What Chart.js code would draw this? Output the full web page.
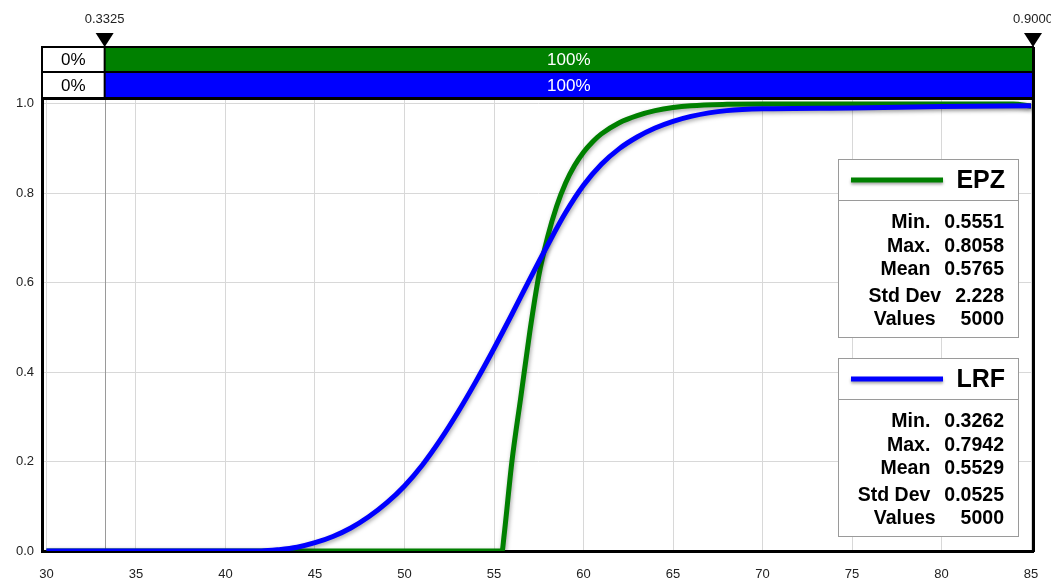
<!DOCTYPE html>
<html>
<head>
<meta charset="utf-8">
<script src="https://cdn.jsdelivr.net/npm/chart.js@4.4.1/dist/chart.umd.min.js"></script>
<style>
  html, body { margin: 0; padding: 0; background: #fff; }
  #wrap { width: 1051px; height: 581px; position: relative; }
</style>
</head>
<body>
<div id="wrap"><canvas id="cdfChart" width="1051" height="581"></canvas></div>
<script>
// ---- data ----
const xTicks = [30, 35, 40, 45, 50, 55, 60, 65, 70, 75, 80, 85];
const yTicks = [0, 0.2, 0.4, 0.6, 0.8, 1.0];

const seriesNames = ['EPZ', 'LRF'];
const seriesColors = ['#008000', '#0000ff'];

const epzX = [30, 55.45, 55.55, 56, 56.5, 57, 57.5, 58, 58.5, 59, 59.5, 60, 60.5, 61, 62, 63, 64, 65, 66, 68, 70, 80, 84, 85];
const epzY = [0, 0, 0.03, 0.2, 0.345, 0.49, 0.615, 0.703, 0.771, 0.823, 0.862, 0.892, 0.915, 0.933, 0.958, 0.974, 0.985, 0.992, 0.996, 0.999, 1.0, 1.0, 1.0, 0.995];

const lrfX = [30, 42, 43, 44, 45, 46, 47, 48, 49, 50, 51, 52, 53, 54, 55, 56, 57, 58, 59, 60, 61, 62, 63, 64, 65, 66, 67, 68, 70, 75, 80, 85];
const lrfY = [0, 0, 0.003, 0.0085, 0.0185, 0.0325, 0.0515, 0.0765, 0.1075, 0.1455, 0.1925, 0.2485, 0.3115, 0.38, 0.453, 0.5295, 0.608, 0.6845, 0.757, 0.818, 0.865, 0.9, 0.926, 0.946, 0.961, 0.972, 0.98, 0.985, 0.989, 0.991, 0.994, 0.996];

const statLabels = ['Min.', 'Max.', 'Mean', 'Std Dev', 'Values'];
const epzStats = ['0.5551', '0.8058', '0.5765', '2.228', '5000'];
const lrfStats = ['0.3262', '0.7942', '0.5529', '0.0525', '5000'];

const markerValues = [33.25, 90];
const markerLabels = ['0.3325', '0.9000'];
const barLeftText = ['0%', '0%'];
const barRightText = ['100%', '100%'];

const FONT = 'Arial, "Liberation Sans", sans-serif';

function toPoints(xs, ys) {
    return xs.map((x, i) => ({ x: x, y: ys[i] }));
}

// ---- plugin: bars, markers, legend boxes ----
const decorPlugin = {
    id: 'decor',
    beforeDatasetsDraw(chart) {
        const ctx = chart.ctx;
        const area = chart.chartArea;
        const xs = chart.scales.x;
        // marker line
        const mx = Math.min(xs.getPixelForValue(markerValues[0]), area.right);
        ctx.save();
        ctx.strokeStyle = '#9a9a9a';
        ctx.lineWidth = 1;
        ctx.beginPath();
        ctx.moveTo(Math.round(mx) + 0.5, area.top);
        ctx.lineTo(Math.round(mx) + 0.5, area.bottom);
        ctx.stroke();
        ctx.restore();
        // shadow for lines
        ctx.save();
        ctx.shadowColor = 'rgba(0,0,0,0.35)';
        ctx.shadowBlur = 4;
        ctx.shadowOffsetX = 1;
        ctx.shadowOffsetY = 2;
    },
    afterDatasetsDraw(chart) {
        chart.ctx.restore();
    },
    afterDraw(chart) {
        const ctx = chart.ctx;
        const area = chart.chartArea;
        const xs = chart.scales.x;
        const left = area.left;
        const right = area.right;
        const split = xs.getPixelForValue(markerValues[0]);
        const rowTop = [47, 72];
        const rowH = [25, 26];

        ctx.save();
        // right border of plot
        ctx.fillStyle = '#000';
        ctx.fillRect(right - 1, 47, 3, area.bottom - 47 + 1);

        for (let i = 0; i < 2; i++) {
            const y = rowTop[i];
            ctx.fillStyle = '#fff';
            ctx.fillRect(left, y, split - left, rowH[i]);
            ctx.fillStyle = seriesColors[i];
            ctx.fillRect(split, y, right - split, rowH[i]);
            ctx.strokeStyle = '#000';
            ctx.lineWidth = 2;
            ctx.strokeRect(left, y, right - left, rowH[i]);
            ctx.beginPath();
            ctx.moveTo(split, y);
            ctx.lineTo(split, y + rowH[i]);
            ctx.stroke();
            ctx.font = '17px ' + FONT;
            ctx.textAlign = 'center';
            ctx.textBaseline = 'middle';
            ctx.fillStyle = '#000';
            ctx.fillText(barLeftText[i], (left + split) / 2, y + rowH[i] / 2 + 1);
            ctx.fillStyle = '#fff';
            ctx.fillText(barRightText[i], (split + right) / 2, y + rowH[i] / 2 + 1);
        }
        // thicker line under bars
        ctx.fillStyle = '#000';
        ctx.fillRect(left, 97, right - left + 2, 3);

        // markers
        markerValues.forEach((v, i) => {
            const px = Math.min(xs.getPixelForValue(v), right);
            ctx.fillStyle = '#000';
            ctx.beginPath();
            ctx.moveTo(px - 9, 33);
            ctx.lineTo(px + 9, 33);
            ctx.lineTo(px, 47);
            ctx.closePath();
            ctx.fill();
            ctx.font = '13px ' + FONT;
            ctx.textAlign = 'center';
            ctx.textBaseline = 'middle';
            ctx.fillStyle = '#222';
            ctx.fillText(markerLabels[i], px, 19);
        });

        // legend boxes
        const boxes = [
            { top: 159, stats: epzStats },
            { top: 358, stats: lrfStats }
        ];
        boxes.forEach((b, i) => {
            const bx = 838, bw = 180, bh = 178;
            ctx.fillStyle = '#fff';
            ctx.fillRect(bx, b.top, bw, bh);
            ctx.strokeStyle = '#9a9a9a';
            ctx.lineWidth = 1;
            ctx.strokeRect(bx + 0.5, b.top + 0.5, bw, bh);
            ctx.beginPath();
            ctx.moveTo(bx, b.top + 41.5);
            ctx.lineTo(bx + bw, b.top + 41.5);
            ctx.stroke();
            // sample line
            ctx.save();
            ctx.shadowColor = 'rgba(0,0,0,0.35)';
            ctx.shadowBlur = 3;
            ctx.shadowOffsetY = 2;
            ctx.strokeStyle = seriesColors[i];
            ctx.lineWidth = 5;
            ctx.beginPath();
            ctx.moveTo(851, b.top + 21);
            ctx.lineTo(943, b.top + 21);
            ctx.stroke();
            ctx.restore();
            ctx.fillStyle = '#000';
            ctx.font = 'bold 25px ' + FONT;
            ctx.textAlign = 'right';
            ctx.textBaseline = 'middle';
            ctx.fillText(seriesNames[i], 1005, b.top + 22);
            ctx.font = 'bold 19.5px ' + FONT;
            ctx.textBaseline = 'alphabetic';
            const baselines = [69, 93, 116, 143, 166];
            statLabels.forEach((lab, k) => {
                const val = b.stats[k];
                ctx.textAlign = 'right';
                ctx.fillText(val, 1004, b.top + baselines[k]);
                const w = ctx.measureText(val).width;
                const gap = lab === 'Values' ? 25 : 14;
                ctx.fillText(lab, 1004 - w - gap, b.top + baselines[k]);
            });
        });
        ctx.restore();
    }
};

const canvas = document.getElementById('cdfChart');
new Chart(canvas, {
    type: 'line',
    data: {
        datasets: [
            {
                label: seriesNames[1],
                data: toPoints(lrfX, lrfY),
                borderColor: seriesColors[1],
                borderWidth: 5,
                pointRadius: 0,
                cubicInterpolationMode: 'monotone',
                fill: false
            },
            {
                label: seriesNames[0],
                data: toPoints(epzX, epzY),
                borderColor: seriesColors[0],
                borderWidth: 5,
                pointRadius: 0,
                cubicInterpolationMode: 'monotone',
                fill: false
            }
        ]
    },
    options: {
        responsive: false,
        animation: false,
        layout: { padding: { left: 0, right: 18, top: 99, bottom: 0 } },
        plugins: {
            legend: { display: false },
            tooltip: { enabled: false }
        },
        scales: {
            x: {
                type: 'linear',
                min: 29.75,
                max: 85.11,
                afterBuildTicks: s => { s.ticks = xTicks.map(v => ({ value: v })); },
                afterFit: s => { s.height = 30; s.paddingRight = 0; s.paddingLeft = 0; },
                grid: { color: '#d8d8d8', lineWidth: 1, drawTicks: false },
                border: { color: '#000', width: 3 },
                ticks: {
                    padding: 16,
                    color: '#222',
                    font: { family: FONT, size: 13 },
                    maxRotation: 0,
                    callback: v => String(v)
                }
            },
            y: {
                type: 'linear',
                min: 0,
                max: 1.011,
                afterBuildTicks: s => { s.ticks = yTicks.map(v => ({ value: v })); },
                afterFit: s => { s.width = 42; },
                grid: { color: '#d8d8d8', lineWidth: 1, drawTicks: false },
                border: { color: '#000', width: 3 },
                ticks: {
                    padding: 8,
                    color: '#222',
                    font: { family: FONT, size: 13 },
                    callback: v => v.toFixed(1)
                }
            }
        }
    },
    plugins: [decorPlugin]
});
</script>
</body>
</html>
